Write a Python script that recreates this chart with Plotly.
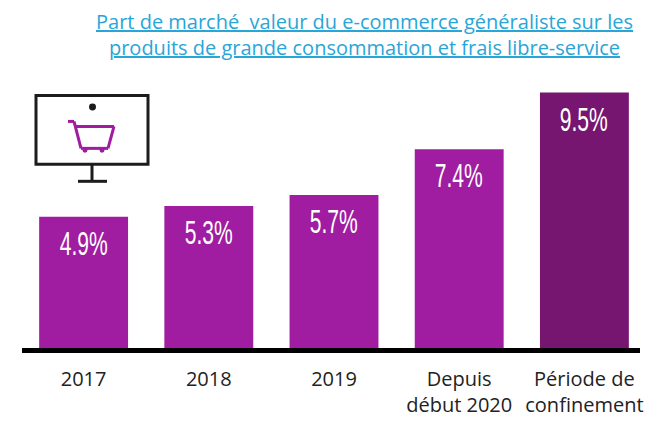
import plotly.graph_objects as go

W, H = 661, 437
categories = ["2017", "2018", "2019", "Depuis<br>début 2020", "Période de<br>confinement"]
values = [4.9, 5.3, 5.7, 7.4, 9.5]
value_labels = ["4.9%", "5.3%", "5.7%", "7.4%", "9.5%"]
bar_colors = ["#A01CA0", "#A01CA0", "#A01CA0", "#A01CA0", "#761670"]
title_lines = ["Part de marché  valeur du e-commerce généraliste sur les",
               "produits de grande consommation et frais libre-service"]

L, R, T, B = 21, 14, 78.5, 88
def px(x): return (x - L) / (W - L - R)
def py(y): return 1 - (y - T) / (H - T - B)

fig = go.Figure(go.Bar(
    x=list(range(len(values))), y=values,
    marker=dict(color=bar_colors, line_width=0),
    width=0.71, hoverinfo="skip",
))

for i, (v, lab) in enumerate(zip(values, value_labels)):
    fig.add_annotation(x=i, y=v, text=lab, showarrow=False, yanchor="top", yshift=-5,
                       font=dict(family="Liberation Sans", size=34, color="white"))

def line(x0, y0, x1, y1, color="#1c1c1c", w=3):
    return dict(type="line", xref="paper", yref="paper", x0=px(x0), y0=py(y0), x1=px(x1), y1=py(y1),
                line=dict(color=color, width=w))

def circ(cx, cy, r, color):
    return dict(type="circle", xref="paper", yref="paper", x0=px(cx-r), x1=px(cx+r), y0=py(cy-r), y1=py(cy+r),
                fillcolor=color, line_width=0)

purple = "#A01CA0"
shapes = [
    line(22, 350.5, 640, 350.5, "#000000", 5),
    dict(type="rect", xref="paper", yref="paper", x0=px(36), x1=px(148), y0=py(95), y1=py(164),
         line=dict(color="#1c1c1c", width=3), fillcolor="white"),
    line(92, 164, 92, 181), line(78, 181, 107, 181),
    circ(92.5, 106.5, 3.5, "#1c1c1c"),
    line(68, 121, 74, 121, purple), line(74, 121, 81, 148, purple),
    line(75, 126, 114, 126, purple), line(114, 126, 108, 148, purple), line(108, 148, 81, 148, purple),
    circ(85, 150, 2.5, purple), circ(102, 150, 2.5, purple),
]

fig.add_annotation(xref="paper", yref="paper", x=px(364), y=py(34),
                   text="<br>".join(f"<u>{t}</u>" for t in title_lines),
                   showarrow=False, xanchor="center", yanchor="middle", align="center",
                   font=dict(family="Open Sans", size=20, color="#2AA5D8"))

fig.update_layout(
    width=W, height=H, autosize=False,
    margin=dict(l=L, r=R, t=T, b=B, pad=0),
    paper_bgcolor="white", plot_bgcolor="white",
    showlegend=False, shapes=shapes,
    xaxis=dict(range=[-0.5, 4.5], tickmode="array", tickvals=list(range(len(categories))),
               ticktext=categories, ticks="outside", ticklen=12, tickcolor="rgba(0,0,0,0)",
               showgrid=False, zeroline=False, showline=False, fixedrange=True,
               tickfont=dict(family="Open Sans", size=20, color="#222222")),
    yaxis=dict(range=[0, 10], visible=False, fixedrange=True),
)
narrow = """
document.body.style.margin = '0';
document.querySelectorAll('.annotation-text').forEach(function(t){
  if (t.textContent.slice(-1) === '%') {
    t.setAttribute('textLength', '48');
    t.setAttribute('lengthAdjust', 'spacingAndGlyphs');
  }
});
"""
fig.write_html("out.html", config={"displayModeBar": False}, post_script=narrow)
